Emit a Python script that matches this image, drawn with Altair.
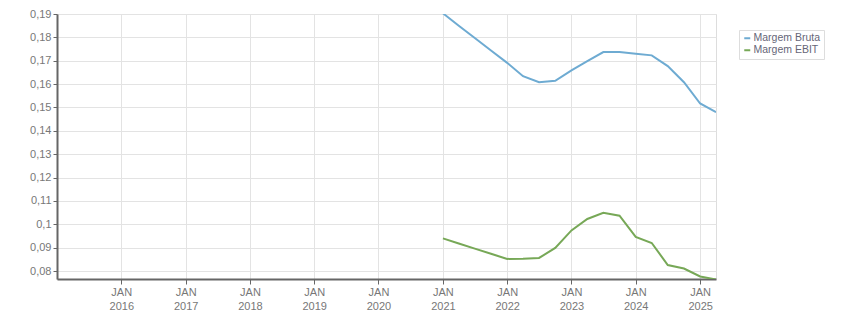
import altair as alt
import pandas as pd

dates = ["2021-01-01", "2021-04-01", "2021-07-01", "2021-10-01",
         "2022-01-01", "2022-04-01", "2022-07-01", "2022-10-01",
         "2023-01-01", "2023-04-01", "2023-07-01", "2023-10-01",
         "2024-01-01", "2024-04-01", "2024-07-01", "2024-10-01",
         "2025-01-01", "2025-04-01"]
margem_bruta = [0.1903, 0.1850, 0.1797, 0.1744, 0.1691, 0.1634, 0.1608, 0.1614,
                0.1659, 0.1698, 0.1737, 0.1737, 0.1730, 0.1723, 0.1677, 0.1608,
                0.1517, 0.1480]
margem_ebit = [0.0940, 0.0918, 0.0896, 0.0874, 0.0852, 0.0853, 0.0856, 0.0899,
               0.0974, 0.1023, 0.1049, 0.1037, 0.0946, 0.0920, 0.0826, 0.0811,
               0.0777, 0.0764]
series_names = ["Margem Bruta", "Margem EBIT"]
colors = ["#6eabd2", "#77a857"]
y_ticks = [0.08, 0.09, 0.10, 0.11, 0.12, 0.13, 0.14, 0.15, 0.16, 0.17, 0.18, 0.19]
x_ticks = ["2016-01-01", "2017-01-01", "2018-01-01", "2019-01-01", "2020-01-01",
           "2021-01-01", "2022-01-01", "2023-01-01", "2024-01-01", "2025-01-01"]

rows = []
for d, v in zip(dates, margem_bruta):
    rows.append({"date": d, "value": v, "serie": series_names[0]})
for d, v in zip(dates, margem_ebit):
    rows.append({"date": d, "value": v, "serie": series_names[1]})
df = pd.DataFrame(rows)

x_tick_vals = [alt.DateTime(year=int(t[:4]), month=1, date=1) for t in x_ticks]

chart = alt.Chart(df).mark_line(strokeWidth=2, clip=True).encode(
    x=alt.X("date:T",
            scale=alt.Scale(domain=[alt.DateTime(year=2015, month=1, date=1),
                                    alt.DateTime(year=2025, month=4, date=1)]),
            axis=alt.Axis(values=x_tick_vals, title=None,
                          labelExpr="['JAN', timeFormat(datum.value, '%Y')]",
                          labelLineHeight=14, labelFont="Liberation Sans",
                          labelFontSize=11, labelColor="#777777",
                          tickColor="#666666", tickSize=5, labelPadding=2,
                          domainColor="#666666", domainWidth=2,
                          gridColor="#e3e3e3", gridWidth=1)),
    y=alt.Y("value:Q",
            scale=alt.Scale(domain=[0.0766, 0.19], nice=False, zero=False),
            axis=alt.Axis(values=y_ticks, title=None,
                          labelExpr="replace(format(datum.value, '.2~f'), '.', ',')",
                          labelFont="Liberation Sans", labelFontSize=11,
                          labelColor="#777777", tickColor="#666666", tickSize=4,
                          labelPadding=2, domainColor="#666666", domainWidth=2,
                          gridColor="#e3e3e3", gridWidth=1)),
    color=alt.Color("serie:N",
                    scale=alt.Scale(domain=series_names, range=colors),
                    legend=alt.Legend(title=None, orient="none", legendX=682, legendY=16,
                                      symbolType="stroke", symbolStrokeWidth=2,
                                      symbolSize=36, labelFont="Liberation Sans",
                                      labelFontSize=10.5, labelColor="#666677",
                                      strokeColor="#dddddd", fillColor="white",
                                      padding=3, rowPadding=1, symbolOffset=0,
                                      labelOffset=1)),
).properties(
    width=659, height=265,
    padding={"left": 57, "top": 14, "right": 135, "bottom": 34},
    autosize=alt.AutoSizeParams(type="none"),
).configure_view(
    stroke="#e0e0e0", strokeWidth=2
).configure(background="white")

chart.save("out.html", embed_options={"renderer": "svg", "actions": False})
